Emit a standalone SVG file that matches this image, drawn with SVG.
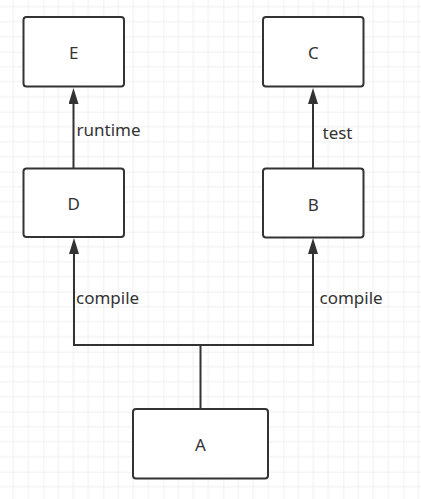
<svg xmlns="http://www.w3.org/2000/svg" width="421" height="499" viewBox="0 0 421 499">
<defs>
<pattern id="grid" patternUnits="userSpaceOnUse" x="-16.7" y="-8.3" width="60" height="60">
<path d="M15,0V60M30,0V60M45,0V60M0,15H60M0,30H60M0,45H60" stroke="#efefef" stroke-width="1" fill="none"/>
<path d="M0,0V60M0,0H60" stroke="#e3e3e3" stroke-width="1" fill="none"/>
</pattern>
<marker id="arr" markerUnits="userSpaceOnUse" viewBox="0 0 16 10" markerWidth="16" markerHeight="10" refX="0" refY="5" orient="auto">
<path d="M0,0L16,5L0,10z" fill="#333"/>
</marker>
<style>
.box{fill:#fff;stroke:#333;stroke-width:2}
.t{font-family:"Noto Sans","Liberation Sans",sans-serif;font-size:17px;fill:#333}
.c{text-anchor:middle}
.ln{fill:none;stroke:#333;stroke-width:2}
</style>
</defs>
<rect width="421" height="499" fill="#fff"/>
<rect width="421" height="499" fill="url(#grid)"/>
<g id="connectors">
<path class="ln" d="M73.5,168.5V104" marker-end="url(#arr)"/>
<path class="ln" d="M313,168.5V104" marker-end="url(#arr)"/>
<path class="ln" d="M200.5,409V345H74V254" marker-end="url(#arr)"/>
<path class="ln" d="M200.5,345H313V254" marker-end="url(#arr)"/>
<text class="t" x="76.5" y="136">runtime</text>
<text class="t" x="322.5" y="138.5">test</text>
<text class="t" x="76" y="304">compile</text>
<text class="t" x="319.5" y="304">compile</text>
</g>
<g id="E"><rect class="box" x="23.5" y="17" width="100.5" height="69.5" rx="3"/><text class="t c" x="73.75" y="59.3">E</text></g>
<g id="D"><rect class="box" x="23.5" y="168.5" width="100.5" height="68.5" rx="3"/><text class="t c" x="73.75" y="210">D</text></g>
<g id="C"><rect class="box" x="263" y="17" width="100.5" height="69.5" rx="3"/><text class="t c" x="313.25" y="59.3">C</text></g>
<g id="B"><rect class="box" x="263" y="168.5" width="100.5" height="69" rx="3"/><text class="t c" x="313.25" y="210.7">B</text></g>
<g id="A"><rect class="box" x="133" y="409" width="135" height="69.5" rx="3"/><text class="t c" x="200.5" y="450.7">A</text></g>
</svg>
